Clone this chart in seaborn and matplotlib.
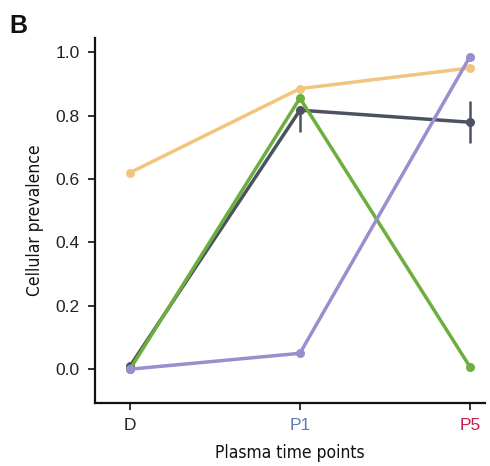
import matplotlib
matplotlib.use("Agg")
import matplotlib.pyplot as plt
import seaborn as sns
import pandas as pd

timepoints = ["D", "P1", "P5"]
orange_vals = [0.62, 0.885, 0.95]
gray_vals = [0.01, 0.817, 0.779]
gray_err_low = [0.01, 0.748, 0.713]
gray_err_high = [0.01, 0.83, 0.846]
green_vals = [0.0, 0.855, 0.008]
purple_vals = [0.0, 0.05, 0.985]
yticks = [0.0, 0.2, 0.4, 0.6, 0.8, 1.0]
tick_colors = ["#222222", "#5B7DB8", "#C41E4A"]

series = {"orange": orange_vals, "gray": gray_vals, "green": green_vals, "purple": purple_vals}
palette = {"orange": "#F2C57F", "gray": "#4B5262", "green": "#6BAF3F", "purple": "#9A8FCE"}

rows = []
for name, vals in series.items():
    for i, v in enumerate(vals):
        rows.append({"clone": name, "x": i, "y": v})
df = pd.DataFrame(rows)

sns.set_theme(style="ticks")
plt.rcParams['font.family'] = ['Liberation Sans', 'DejaVu Sans']

fig = plt.figure(figsize=(4.9, 4.66), dpi=100)
ax = fig.add_axes([0.194, 0.135, 0.796, 0.783])

for name in series:
    sub = df[df.clone == name]
    sns.lineplot(data=sub, x="x", y="y", color=palette[name], marker="o",
                 markersize=6.5, markeredgewidth=0, linewidth=2.5, ax=ax,
                 legend=False, zorder=3)
    if name == "gray":
        ax.vlines(range(len(timepoints)), gray_err_low, gray_err_high,
                  color=palette["gray"], linewidth=1.8, zorder=3)

ax.set_xlim(-0.206, 2.09)
ax.set_ylim(-0.107, 1.044)
ax.set_xticks(range(len(timepoints)))
ax.set_xticklabels(timepoints)
ax.set_yticks(yticks)
ax.set_yticklabels([f"{t:.1f}" for t in yticks])
ax.tick_params(axis="both", labelsize=12.5, length=5, width=1.3, colors="#222222",
               direction="out", pad=6)
for lbl, c in zip(ax.get_xticklabels(), tick_colors):
    lbl.set_color(c)
for s in ["top", "right"]:
    ax.spines[s].set_visible(False)
for s in ["left", "bottom"]:
    ax.spines[s].set_linewidth(1.6)
    ax.spines[s].set_color("#111111")

ax.set_xlabel("Plasma time points", fontsize=12.5, family="DejaVu Sans",
              fontstretch="condensed", labelpad=8, color="#111111")
ax.set_ylabel("Cellular prevalence", fontsize=12.5, family="DejaVu Sans",
              fontstretch="condensed", labelpad=8, color="#111111")

fig.text(0.02, 0.97, "B", fontsize=18, fontweight="bold", va="top", ha="left",
         color="#111111")

fig.savefig("out.png", dpi=100)
